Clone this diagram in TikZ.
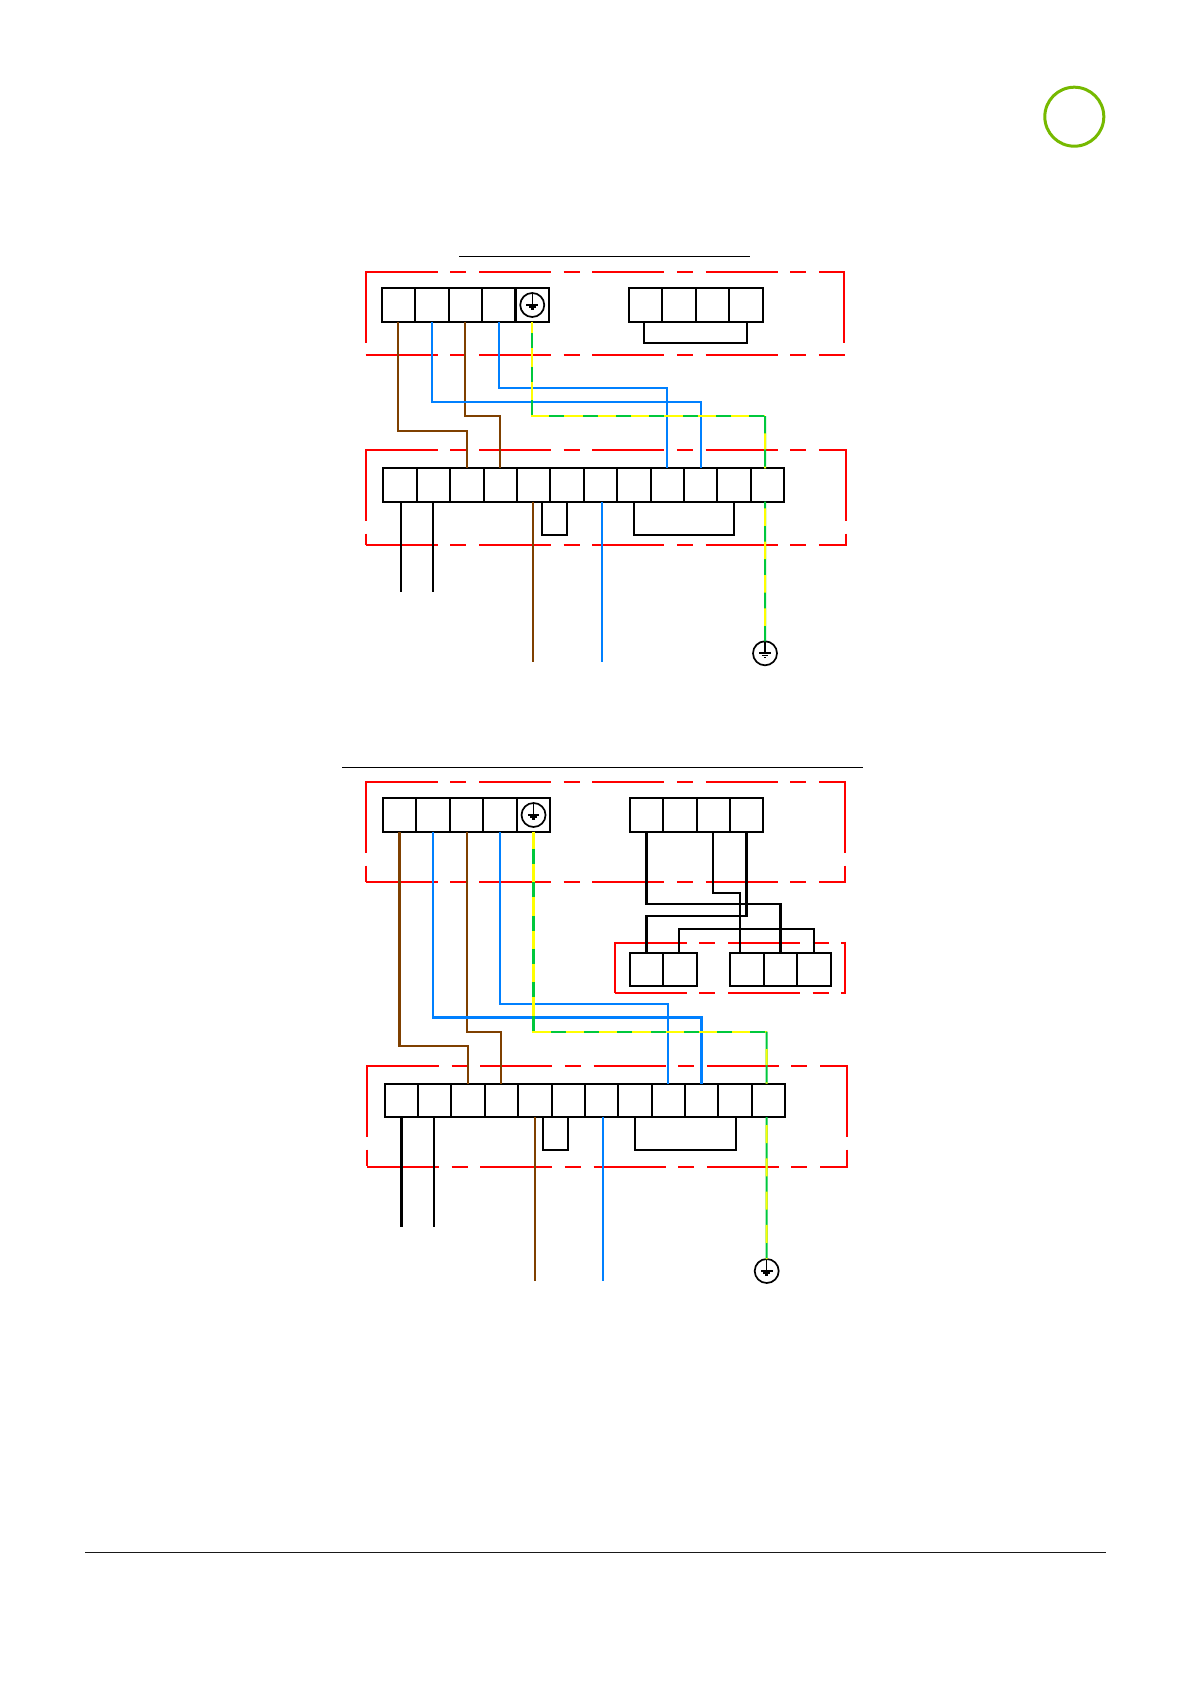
\documentclass[tikz,border=0pt]{standalone}
\usetikzlibrary{calc}
\definecolor{wbrown}{HTML}{7F4000}
\definecolor{wblue}{HTML}{0080FF}
\definecolor{wgreen}{HTML}{00C83C}
\definecolor{wyellow}{HTML}{FFFF00}
\definecolor{ringgreen}{HTML}{76B900}
\tikzset{
  cell/.style={draw=black,line width=2pt,minimum width=#1,minimum height=33.4pt,inner sep=0pt,outer sep=0pt},
  cell/.default=33.4pt,
  gring/.style={draw=black,circle,line width=1.7pt,minimum size=24pt,inner sep=0pt,outer sep=0pt},
  wire/.style={line width=2pt,line join=miter},
  thickwire/.style={line width=2.6pt,line join=miter},
  brownw/.style={wire,draw=wbrown},
  bluew/.style={wire,draw=wblue},
  blackw/.style={wire,draw=black},
  earthw/.style n args={4}{line width=#4pt,draw=wgreen,
    postaction={draw=wyellow,line width=#4pt,dash pattern=on #1pt off #2pt,dash phase=#3pt}},
  redline/.style={draw=red,line width=1.9pt,dash pattern=on 71.9pt off 12.6pt on 16pt off 12.8pt},
  rule/.style={draw=black,line width=1.2pt}
}
\newcommand{\redframe}[4]{%
  \draw[redline] (#1,#2-0.9) -- (#1,#4);
  \draw[redline] (#3,#2-0.9) -- (#3,#4);
  \draw[redline] (#1,#2) -- (#3+0.9,#2);
  \draw[redline] (#1,#4) -- (#3+0.9,#4);
}
\newcommand{\gndmark}[1]{%
  \fill[black] ($(#1.center)+(-5.8,-0.9)$) rectangle ($(#1.center)+(5.8,0.9)$);
  \fill[black] ($(#1.center)+(-3.4,1.2)$) rectangle ($(#1.center)+(3.4,2.8)$);
  \fill[black] ($(#1.center)+(-1.3,3.3)$) rectangle ($(#1.center)+(1.3,4.8)$);
  \draw[black,line width=1.3pt] ($(#1.center)+(0,-11)$) -- (#1.center);
}
\begin{document}
\begin{tikzpicture}[x=1pt,y=-1pt]
\useasboundingbox (0,0) rectangle (1192,1685);

% page furniture
\node[draw=ringgreen,line width=3pt,circle,minimum size=59pt,inner sep=0pt,outer sep=0pt] (ring) at (1074.3,116.7) {};
\coordinate (fl) at (85,1552.3); \coordinate (fr) at (1106,1552.3);
\draw[draw=black!90,line width=1.2pt] (fl) -- (fr);

% ===== upper diagram =====
\coordinate (t1l) at (459,256.3); \coordinate (t1r) at (750,256.3);
\draw[rule] (t1l) -- (t1r);
\redframe{365.7}{272}{844}{355}
\redframe{365.7}{450}{846}{544.7}

\foreach \i in {1,...,5} \node[cell] (a\i) at ({398.4+(\i-1)*33.46},305) {};
\foreach \i in {1,...,4} \node[cell] (c\i) at ({645.4+(\i-1)*33.5},305) {};
\foreach \i in {1,...,12} \node[cell] (b\i) at ({400+(\i-1)*33.4},485) {};
\node[gring] (ga) at (a5.center) {};
\gndmark{ga}
\node[gring] (gb) at (765,653.3) {};
\gndmark{gb}

\draw[blackw] ([xshift=-1pt]c1.south) -- ++(0,21.6) -| ([xshift=1pt]c4.south);
\draw[blackw] ([xshift=8pt]b5.south) -- ++(0,33.3) -| (b6.south);
\draw[blackw] (b8.south) -- ++(0,33.3) -| (b11.south);
\draw[blackw] ([xshift=1pt]b1.south) -- ++(0,90);
\draw[blackw] (b2.south) -- ++(0,90);

\draw[brownw] (a1.south) -- ++(0,109.3) -| (b3.north);
\draw[brownw] (a3.south) -- ++(0,94.3) -| (b4.north);
\draw[brownw] ([xshift=-1pt]b5.south) -- ++(0,160);
\draw[bluew] (a2.south) -- ++(0,80.3) -| (b10.north);
\draw[bluew] (a4.south) -- ++(0,66.3) -| (b9.north);
\draw[bluew] ([xshift=1.3pt]b7.south) -- ++(0,160);

\coordinate (k1) at (765,416);
\path[earthw={18.3}{15}{6.7}{2}] (a5.south) |- (k1);
\path[earthw={16}{17.3}{16}{2}] (k1) -- ([xshift=-2.4pt]b12.north);
\path[earthw={17.5}{15.8}{26.6}{2}] ([xshift=-2.4pt]b12.south) -- (gb.north);

% ===== lower diagram =====
\coordinate (t2l) at (342,767.3); \coordinate (t2r) at (863,767.3);
\draw[rule] (t2l) -- (t2r);
\redframe{365.7}{782}{845}{881.7}
\redframe{367}{1066}{847}{1166.7}
\redframe{614.7}{942.7}{845.3}{993.3}

\foreach \i in {1,...,5} \node[cell] (p\i) at ({399.7+(\i-1)*33.46},815) {};
\foreach \i in {1,...,4} \node[cell] (q\i) at ({646.7+(\i-1)*33.33},815) {};
\foreach \i in {1,...,2} \node[cell] (d\i) at ({646.7+(\i-1)*33.33},969.3) {};
\foreach \i in {1,...,3} \node[cell] (e\i) at ({746.8+(\i-1)*33.55},969.3) {};
\foreach \i in {1,...,12} \node[cell] (r\i) at ({401.4+(\i-1)*33.36},1100.3) {};
\node[gring] (gc) at (p5.center) {};
\gndmark{gc}
\node[gring] (gd) at (766.7,1271) {};
\gndmark{gd}

\draw[blackw,thickwire] (q1.south) -- ++(0,72.3) -| (e2.north);
\draw[blackw] (q3.south) -- ++(0,61) -| ([xshift=-6.8pt]e1.north);
\draw[blackw,thickwire] (q4.south) -- ++(0,84.3) -| (d1.north);
\draw[blackw] ([xshift=-1pt]d2.north) -- ++(0,-23.7) -| (e3.north);

\draw[blackw] ([xshift=-25.2pt]r6.south) -- ++(0,33) -| (r6.south);
\draw[blackw] (r8.south) -- ++(0,33) -| ([xshift=1pt]r11.south);
\draw[blackw,thickwire] (r1.south) -- ++(0,110.3);
\draw[blackw] ([xshift=-1pt]r2.south) -- ++(0,110.3);

\draw[brownw,thickwire] (p1.south) -- ++(0,214.3) -| (r3.north);
\draw[brownw] (p3.south) -- ++(0,200) -| (r4.north);
\draw[brownw] (r5.south) -- ++(0,164.3);
\draw[bluew,thickwire] (p2.south) -- ++(0,186) -| (r10.north);
\draw[bluew] (p4.south) -- ++(0,172.3) -| (r9.north);
\draw[bluew] ([xshift=1pt]r7.south) -- ++(0,164.3);

\coordinate (k2) at (766.7,1031.7);
\path[earthw={18.3}{15}{1}{2.4}] (p5.south) |- (k2);
\path[earthw={16}{17.3}{16}{2}] (k2) -- ([xshift=-1.7pt]r12.north);
\path[earthw={18}{15.3}{25.3}{2}] ([xshift=-1.7pt]r12.south) -- (gd.north);
\end{tikzpicture}
\end{document}
